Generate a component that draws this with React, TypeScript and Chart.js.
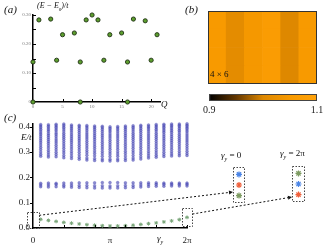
import React, { useEffect, useRef } from 'react';
import { Chart, registerables } from 'chart.js';

Chart.register(...registerables);
const SERIF = '"Liberation Serif", "DejaVu Serif", serif';
Chart.defaults.font.family = SERIF;

// ---------------- panel (a): excitation energies vs momentum Q
const aQ = [0, 0, 1, 3, 4, 5, 7, 8, 8, 9, 10, 11, 12, 13, 15, 16, 16, 17, 19, 20, 21];
const aEnergy = [0, 0.138, 0.283, 0.286, 0.144, 0.232, 0.238, 0, 0.138, 0.283, 0.3, 0.283, 0.144, 0.232, 0.238, 0, 0.138, 0.286, 0.28, 0.144, 0.232];
const aYLabelTicks = [0, 0.1, 0.2, 0.3];
const aYMarks = [0.05, 0.1, 0.15, 0.2, 0.25, 0.3];
const aXTicks = [0, 5, 10, 15, 20];
const aXMarks = [5, 10, 15, 20];

// ---------------- panel (b): 4 x 6 map + colour bar
const heatRows = [
  [1.05, 1.012, 1.045, 1.065, 1.0, 1.05],
  [1.05, 1.012, 1.045, 1.065, 1.0, 1.05],
  [1.05, 1.012, 1.045, 1.065, 1.0, 1.05],
  [1.05, 1.012, 1.045, 1.065, 1.0, 1.05],
];
const heatColumns = ['1', '2', '3', '4', '5', '6'];
const colorbarTicks = [0.9, 1.1];
const cmapStops: [number, [number, number, number]][] = [
  [0.9, [0, 0, 0]],
  [0.95, [100, 55, 0]],
  [1.0, [222, 136, 0]],
  [1.05, [248, 154, 0]],
  [1.1, [255, 162, 10]],
];

// ---------------- panel (c): spectrum vs twist angle gamma_y (in units of pi)
const gammaOverPi = [0.1, 0.2, 0.3, 0.4, 0.5, 0.6, 0.7, 0.8, 0.9, 1.0, 1.1, 1.2, 1.3, 1.4, 1.5, 1.6, 1.7, 1.8, 1.9, 2.0];
const groundBand = [0.034, 0.03, 0.026, 0.022, 0.019, 0.016, 0.013, 0.011, 0.009, 0.008, 0.008, 0.009, 0.011, 0.014, 0.017, 0.02, 0.024, 0.028, 0.033, 0.042];
const lowerBand = [
  [0.163, 0.17, 0.176], [0.162, 0.17, 0.177], [0.163, 0.171, 0.176], [0.162, 0.169, 0.177],
  [0.161, 0.169, 0.177], [0.16, 0.168, 0.178], [0.159, 0.168, 0.178], [0.158, 0.167, 0.178],
  [0.158, 0.167, 0.179], [0.158, 0.166, 0.179], [0.158, 0.167, 0.179], [0.159, 0.168, 0.178],
  [0.16, 0.168, 0.178], [0.162, 0.17, 0.178], [0.164, 0.171, 0.178], [0.165, 0.172, 0.178],
  [0.165, 0.172, 0.177], [0.166, 0.172, 0.177], [0.166, 0.172, 0.177], [0.166, 0.172, 0.177],
];
const upperBand = [
  [0.408, 0.402, 0.396, 0.389, 0.382, 0.375, 0.368, 0.36, 0.352, 0.344, 0.336, 0.327, 0.318, 0.309, 0.3, 0.291, 0.283],
  [0.407, 0.401, 0.394, 0.387, 0.38, 0.372, 0.365, 0.357, 0.349, 0.341, 0.333, 0.324, 0.315, 0.306, 0.297, 0.288, 0.28],
  [0.409, 0.403, 0.397, 0.39, 0.383, 0.375, 0.368, 0.36, 0.351, 0.343, 0.335, 0.326, 0.317, 0.308, 0.299, 0.29, 0.281],
  [0.41, 0.404, 0.397, 0.39, 0.382, 0.374, 0.366, 0.358, 0.35, 0.341, 0.332, 0.323, 0.314, 0.305, 0.296, 0.286, 0.277],
  [0.406, 0.4, 0.393, 0.386, 0.378, 0.37, 0.362, 0.354, 0.346, 0.338, 0.329, 0.32, 0.311, 0.302, 0.293, 0.283, 0.274],
  [0.405, 0.399, 0.392, 0.384, 0.376, 0.368, 0.36, 0.352, 0.344, 0.335, 0.326, 0.317, 0.308, 0.299, 0.289, 0.279, 0.271],
  [0.404, 0.398, 0.391, 0.383, 0.375, 0.367, 0.359, 0.351, 0.342, 0.333, 0.324, 0.315, 0.306, 0.297, 0.287, 0.276, 0.268],
  [0.402, 0.396, 0.389, 0.381, 0.373, 0.365, 0.357, 0.349, 0.34, 0.331, 0.322, 0.313, 0.304, 0.295, 0.285, 0.274, 0.266],
  [0.401, 0.395, 0.388, 0.38, 0.372, 0.364, 0.356, 0.347, 0.338, 0.329, 0.32, 0.311, 0.302, 0.293, 0.283, 0.272, 0.265],
  [0.399, 0.393, 0.386, 0.379, 0.371, 0.363, 0.355, 0.346, 0.337, 0.328, 0.319, 0.31, 0.301, 0.292, 0.282, 0.271, 0.264],
  [0.4, 0.394, 0.387, 0.379, 0.371, 0.363, 0.355, 0.346, 0.337, 0.328, 0.319, 0.31, 0.301, 0.292, 0.283, 0.272, 0.265],
  [0.402, 0.396, 0.389, 0.381, 0.373, 0.365, 0.357, 0.348, 0.339, 0.33, 0.321, 0.312, 0.303, 0.294, 0.284, 0.274, 0.266],
  [0.403, 0.397, 0.39, 0.382, 0.374, 0.366, 0.358, 0.35, 0.341, 0.332, 0.323, 0.314, 0.305, 0.296, 0.286, 0.276, 0.268],
  [0.405, 0.399, 0.392, 0.385, 0.377, 0.369, 0.361, 0.353, 0.345, 0.336, 0.327, 0.318, 0.309, 0.3, 0.291, 0.281, 0.272],
  [0.406, 0.4, 0.394, 0.387, 0.379, 0.371, 0.363, 0.355, 0.347, 0.338, 0.329, 0.32, 0.311, 0.302, 0.293, 0.284, 0.276],
  [0.408, 0.402, 0.396, 0.389, 0.382, 0.374, 0.366, 0.358, 0.35, 0.341, 0.332, 0.323, 0.314, 0.305, 0.296, 0.287, 0.279],
  [0.409, 0.403, 0.397, 0.39, 0.383, 0.376, 0.368, 0.36, 0.352, 0.344, 0.335, 0.326, 0.317, 0.308, 0.299, 0.29, 0.282],
  [0.41, 0.404, 0.398, 0.391, 0.384, 0.377, 0.369, 0.361, 0.353, 0.345, 0.337, 0.328, 0.319, 0.31, 0.301, 0.292, 0.284],
  [0.41, 0.405, 0.399, 0.392, 0.385, 0.378, 0.37, 0.362, 0.354, 0.346, 0.338, 0.329, 0.32, 0.311, 0.302, 0.293, 0.285],
  [0.411, 0.405, 0.399, 0.393, 0.386, 0.379, 0.371, 0.363, 0.355, 0.347, 0.339, 0.33, 0.321, 0.312, 0.303, 0.294, 0.286],
];
const cXTicks = [0, 0.4, 0.8, 1, 1.2, 1.6, 2];
const cXLabels = ['0', '', '', 'π', '', '', '2π'];
const cXMarks = [0.4, 0.8, 1.2, 1.6, 2];
const cYTicks = [0, 0.1, 0.2, 0.3, 0.4];
const cYMarks = [0.1, 0.2, 0.3, 0.4];

// insets: order of the three lowest states (top -> bottom)
const insetLevels = [3, 2, 1];
const insetColorsAt0 = ['#4d86e6', '#f0603c', '#7d9b62'];
const insetColorsAt2Pi = ['#7d9b62', '#4d86e6', '#f0603c'];

// ---------------- helpers
function cmap(v: number): string {
  const s = cmapStops;
  if (v <= s[0][0]) return `rgb(${s[0][1].join(',')})`;
  for (let i = 1; i < s.length; i++) {
    if (v <= s[i][0]) {
      const t = (v - s[i - 1][0]) / (s[i][0] - s[i - 1][0]);
      const c = s[i - 1][1].map((a, k) => Math.round(a + (s[i][1][k] - a) * t));
      return `rgb(${c.join(',')})`;
    }
  }
  return `rgb(${s[s.length - 1][1].join(',')})`;
}

function tickPlugin(cfg: { x?: number[]; y?: number[]; len: number; xOut?: boolean; yOut?: boolean; w?: number }) {
  return {
    id: 'tickMarks',
    afterDraw(chart: any) {
      const { ctx, chartArea: a, scales } = chart;
      ctx.save();
      ctx.strokeStyle = '#000';
      ctx.lineWidth = cfg.w ?? 1;
      for (const v of cfg.x ?? []) {
        const px = Math.round(scales.x.getPixelForValue(v)) + 0.5;
        const d = cfg.xOut ? 1 : -1;
        ctx.beginPath();
        ctx.moveTo(px, a.bottom);
        ctx.lineTo(px, a.bottom + d * cfg.len);
        ctx.stroke();
      }
      for (const v of cfg.y ?? []) {
        const py = Math.round(scales.y.getPixelForValue(v)) + 0.5;
        const d = cfg.yOut ? -1 : 1;
        ctx.beginPath();
        ctx.moveTo(a.left, py);
        ctx.lineTo(a.left + d * cfg.len, py);
        ctx.stroke();
      }
      ctx.restore();
    },
  };
}

function framePlugin(color: string, dash: number[]) {
  return {
    id: 'frame',
    afterDraw(chart: any) {
      const { ctx, chartArea: a } = chart;
      ctx.save();
      ctx.strokeStyle = color;
      ctx.lineWidth = 1;
      ctx.setLineDash(dash);
      ctx.strokeRect(a.left + 0.5, a.top + 0.5, a.right - a.left - 1, a.bottom - a.top - 1);
      ctx.restore();
    },
  };
}

const baseOptions = {
  animation: false,
  responsive: false,
  devicePixelRatio: 1,
};

function ChartCanvas({ left, top, width, height, make }: { left: number; top: number; width: number; height: number; make: () => any }) {
  const ref = useRef<HTMLCanvasElement>(null);
  useEffect(() => {
    const chart = new Chart(ref.current as HTMLCanvasElement, make());
    return () => chart.destroy();
  }, []);
  return <canvas ref={ref} width={width} height={height} style={{ position: 'absolute', left, top, width, height }} />;
}

function Label({ left, top, size, italic, children }: any) {
  return (
    <div style={{ position: 'absolute', left, top, fontSize: size, fontStyle: italic ? 'italic' : 'normal', lineHeight: 1, whiteSpace: 'nowrap', fontFamily: SERIF, color: '#111' }}>
      {children}
    </div>
  );
}

// ---------------- chart configs
const makeA = () => ({
  type: 'scatter',
  data: {
    datasets: [
      {
        data: aQ.map((q, i) => ({ x: q, y: aEnergy[i] })),
        backgroundColor: '#5c9e2e',
        borderColor: '#1e3012',
        borderWidth: 0.9,
        pointRadius: 2.1,
        clip: false,
      },
    ],
  },
  options: {
    ...baseOptions,
    layout: { autoPadding: false, padding: { top: 15, right: 12, left: 0, bottom: 0 } },
    plugins: { legend: { display: false }, tooltip: { enabled: false } },
    scales: {
      x: {
        type: 'linear', min: 0, max: 21.5,
        grid: { display: false, drawTicks: false },
        border: { display: true, color: '#000', width: 1.5 },
        afterBuildTicks: (s: any) => { s.ticks = aXTicks.map((v) => ({ value: v })); },
        ticks: { font: { size: 5 }, color: '#777', padding: 2, maxRotation: 0, autoSkip: false },
        afterFit: (s: any) => { s.height = 14; },
      },
      y: {
        type: 'linear', min: 0, max: 0.3,
        grid: { display: false, drawTicks: false },
        border: { display: true, color: '#000', width: 1.5 },
        afterBuildTicks: (s: any) => { s.ticks = aYLabelTicks.map((v) => ({ value: v })); },
        ticks: { font: { size: 5 }, color: '#777', padding: 2, callback: (v: number) => (v === 0 ? '0' : v.toFixed(2)) },
        afterFit: (s: any) => { s.width = 33; },
      },
    },
  },
  plugins: [tickPlugin({ x: aXMarks, y: aYMarks, len: 3 })],
});

const makeHeat = () => ({
  type: 'bar',
  data: {
    labels: heatColumns,
    datasets: heatRows.map((row) => ({
      data: row.map(() => 1),
      backgroundColor: row.map((v) => cmap(v)),
      borderWidth: 0,
      barPercentage: 1,
      categoryPercentage: 1,
    })),
  },
  options: {
    ...baseOptions,
    layout: { autoPadding: false, padding: 0 },
    plugins: { legend: { display: false }, tooltip: { enabled: false } },
    scales: {
      x: { stacked: true, display: false },
      y: { stacked: true, display: false, min: 0, max: heatRows.length },
    },
  },
  plugins: [framePlugin('#333', [])],
});

const makeColorbar = () => ({
  type: 'scatter',
  data: { datasets: [] },
  options: {
    ...baseOptions,
    layout: { autoPadding: false, padding: { top: 2, right: 10, left: 0, bottom: 0 } },
    plugins: { legend: { display: false }, tooltip: { enabled: false } },
    scales: {
      x: {
        type: 'linear', min: 0.9, max: 1.1,
        grid: { display: false, drawTicks: false },
        border: { display: false },
        afterBuildTicks: (s: any) => { s.ticks = colorbarTicks.map((v) => ({ value: v })); },
        ticks: { font: { size: 10 }, color: '#222', padding: 3, maxRotation: 0, callback: (v: number) => v.toFixed(1) },
        afterFit: (s: any) => { s.height = 17; },
      },
      y: { display: false, min: 0, max: 1, afterFit: (s: any) => { s.width = 8; } },
    },
  },
  plugins: [
    {
      id: 'gradient',
      beforeDatasetsDraw(chart: any) {
        const { ctx, chartArea: a } = chart;
        const g = ctx.createLinearGradient(a.left, 0, a.right, 0);
        const lo = cmapStops[0][0];
        const hi = cmapStops[cmapStops.length - 1][0];
        cmapStops.forEach(([v, c]) => {
          const t = Math.min(1, Math.max(0, (v - lo) / (hi - lo)));
          g.addColorStop(t, `rgb(${c.join(',')})`);
        });
        ctx.save();
        ctx.fillStyle = g;
        ctx.fillRect(a.left, a.top, a.right - a.left, a.bottom - a.top);
        ctx.restore();
      },
    },
    framePlugin('#444', []),
  ],
});

const C_TOP = 110;
const makeC = () => {
  const blue: { x: number; y: number }[] = [];
  gammaOverPi.forEach((g, i) => {
    upperBand[i].forEach((e) => blue.push({ x: g, y: e }));
    lowerBand[i].forEach((e) => blue.push({ x: g, y: e }));
  });
  const annot = {
    id: 'annot',
    afterDraw(chart: any) {
      const { ctx, scales } = chart;
      const X = (v: number) => scales.x.getPixelForValue(v);
      const Y = (v: number) => scales.y.getPixelForValue(v);
      ctx.save();
      ctx.strokeStyle = '#444';
      ctx.lineWidth = 1;
      ctx.setLineDash([1.5, 1.5]);
      const boxes = [
        [-0.08, 0.08, 0, 0.062],
        [1.94, 2.07, 0.008, 0.078],
      ];
      boxes.forEach(([x0, x1, y0, y1]) => {
        ctx.strokeRect(Math.round(X(x0)) + 0.5, Math.round(Y(y1)) + 0.5, Math.round(X(x1) - X(x0)), Math.round(Y(y0) - Y(y1)));
      });
      const arrows = [
        [X(0.08), Y(0.05), 233, 192 - C_TOP],
        [X(2.07), Y(0.055), 292, 197 - C_TOP],
      ];
      ctx.strokeStyle = '#111';
      ctx.fillStyle = '#111';
      arrows.forEach(([x0, y0, x1, y1]) => {
        const ang = Math.atan2(y1 - y0, x1 - x0);
        const hx = x1 - 4 * Math.cos(ang);
        const hy = y1 - 4 * Math.sin(ang);
        ctx.setLineDash([2, 2]);
        ctx.beginPath();
        ctx.moveTo(x0, y0);
        ctx.lineTo(hx, hy);
        ctx.stroke();
        ctx.setLineDash([]);
        ctx.beginPath();
        ctx.moveTo(x1, y1);
        ctx.lineTo(hx - 2 * Math.sin(ang), hy + 2 * Math.cos(ang));
        ctx.lineTo(hx + 2 * Math.sin(ang), hy - 2 * Math.cos(ang));
        ctx.closePath();
        ctx.fill();
      });
      ctx.restore();
    },
  };
  return {
    type: 'scatter',
    data: {
      datasets: [
        {
          data: blue,
          backgroundColor: 'rgba(68,68,178,0.62)',
          borderColor: 'rgba(68,68,178,0.4)',
          borderWidth: 0.5,
          pointRadius: 1.5,
          clip: false,
        },
        {
          data: gammaOverPi.map((g, i) => ({ x: g, y: groundBand[i] })),
          pointStyle: 'star',
          borderColor: '#79a579',
          backgroundColor: '#79a579',
          borderWidth: 1,
          pointRadius: 1.9,
          clip: false,
        },
      ],
    },
    options: {
      ...baseOptions,
      layout: { autoPadding: false, padding: { top: 14, right: 140, left: 0, bottom: 0 } },
      plugins: { legend: { display: false }, tooltip: { enabled: false } },
      scales: {
        x: {
          type: 'linear', min: 0, max: 2,
          grid: { display: false, drawTicks: false },
          border: { display: true, color: '#000', width: 1.5 },
          afterBuildTicks: (s: any) => { s.ticks = cXTicks.map((v) => ({ value: v })); },
          ticks: { font: { size: 9 }, color: '#222', padding: 7, maxRotation: 0, autoSkip: false, callback: (_v: number, i: number) => cXLabels[i] },
          afterFit: (s: any) => { s.height = 18; },
        },
        y: {
          type: 'linear', min: 0, max: 0.41,
          grid: { display: false, drawTicks: false },
          border: { display: true, color: '#000', width: 1.5 },
          afterBuildTicks: (s: any) => { s.ticks = cYTicks.map((v) => ({ value: v })); },
          ticks: { font: { size: 9 }, color: '#222', padding: 3, callback: (v: number) => v.toFixed(1) },
          afterFit: (s: any) => { s.width = 33; },
        },
      },
    },
    plugins: [tickPlugin({ x: cXMarks, y: cYMarks, len: 3, yOut: true }), annot],
  };
};

const makeInset = (colors: string[]) => () => ({
  type: 'scatter',
  data: {
    datasets: [
      {
        data: insetLevels.map((l) => ({ x: 0, y: l })),
        pointStyle: 'star',
        borderColor: colors,
        backgroundColor: colors,
        borderWidth: 1.2,
        pointRadius: 3,
        clip: false,
      },
    ],
  },
  options: {
    ...baseOptions,
    layout: { autoPadding: false, padding: 0 },
    plugins: { legend: { display: false }, tooltip: { enabled: false } },
    scales: {
      x: { display: false, min: -1, max: 1 },
      y: { display: false, min: 0.3, max: 3.7 },
    },
  },
  plugins: [framePlugin('#444', [1.5, 1.5])],
});

export default function App() {
  return (
    <div style={{ position: 'fixed', left: 0, top: 0, width: 327, height: 246, background: '#fff', overflow: 'hidden' }}>
      <ChartCanvas left={0} top={0} width={172} height={116} make={makeA} />
      <ChartCanvas left={208} top={11} width={109} height={73} make={makeHeat} />
      <ChartCanvas left={200} top={92} width={127} height={26} make={makeColorbar} />
      <ChartCanvas left={0} top={C_TOP} width={327} height={136} make={makeC} />
      <ChartCanvas left={233} top={167} width={12} height={36} make={makeInset(insetColorsAt0)} />
      <ChartCanvas left={292} top={166} width={13} height={36} make={makeInset(insetColorsAt2Pi)} />

      <Label left={4} top={4} size={11} italic>(a)</Label>
      <Label left={37} top={2} size={8} italic>
        (E − E<sub style={{ fontSize: 5 }}>0</sub>)/t
      </Label>
      <Label left={161} top={100} size={9} italic>Q</Label>
      <Label left={185} top={4} size={11} italic>(b)</Label>
      <Label left={210} top={70} size={9}>4 × 6</Label>
      <Label left={4} top={112} size={11} italic>(c)</Label>
      <Label left={21} top={133} size={9} italic>E/t</Label>
      <Label left={157} top={234} size={9} italic>
        γ<sub style={{ fontSize: 6 }}>y</sub>
      </Label>
      <Label left={221} top={151} size={9} italic>
        γ<sub style={{ fontSize: 6 }}>y</sub> <span style={{ fontStyle: 'normal' }}>= 0</span>
      </Label>
      <Label left={280} top={149} size={9} italic>
        γ<sub style={{ fontSize: 6 }}>y</sub> <span style={{ fontStyle: 'normal' }}>= 2π</span>
      </Label>
    </div>
  );
}
